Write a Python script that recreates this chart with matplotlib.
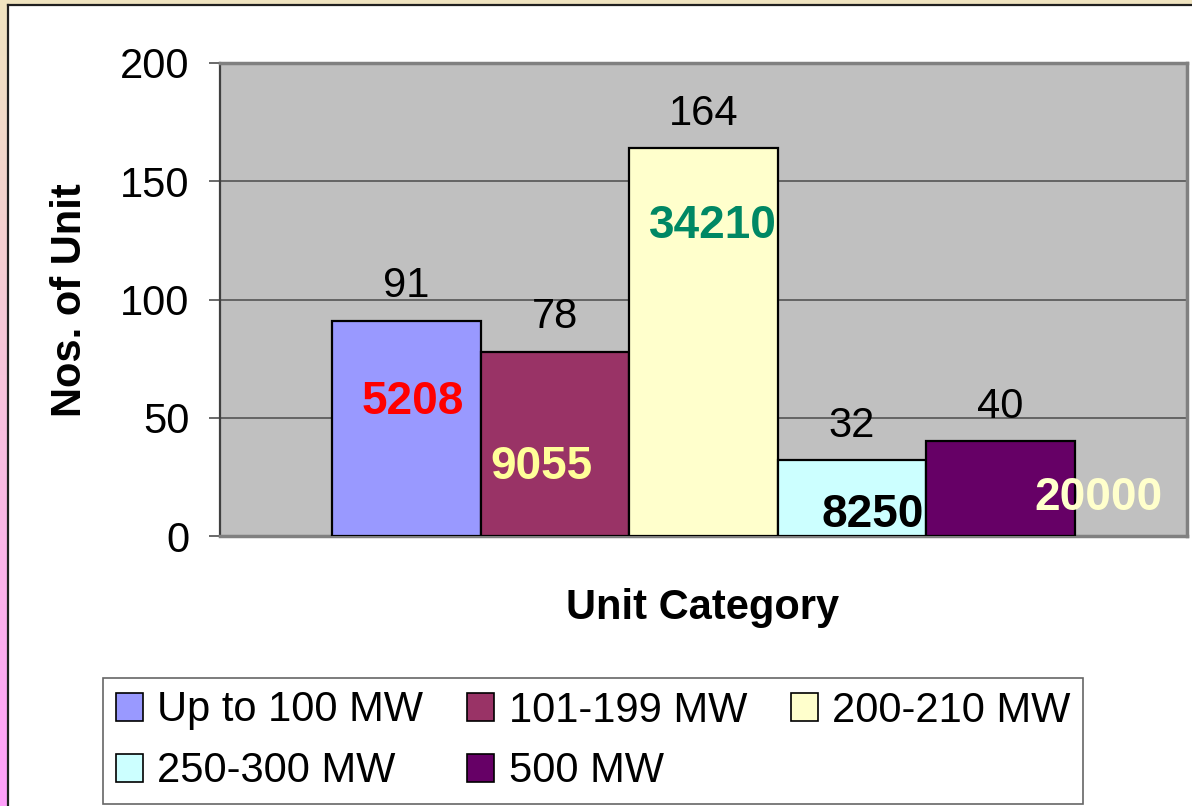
import numpy as np
import matplotlib
matplotlib.use("Agg")
import matplotlib.pyplot as plt
from matplotlib.patches import Rectangle, Patch

plt.rcParams['font.family'] = ['Liberation Sans', 'DejaVu Sans']

# data
categories = ["Up to 100 MW", "101-199 MW", "200-210 MW", "250-300 MW", "500 MW"]
units = [91, 78, 164, 32, 40]
capacity_labels = ["5208", "9055", "34210", "8250", "20000"]
colors = ["#9999FF", "#993366", "#FFFFCC", "#CCFFFF", "#660066"]
cap_colors = ["#FF0000", "#FFFF99", "#008864", "#000000", "#FFFFCC"]
# where the capacity number sits (x shift in bar widths, height in axis units)
cap_dx = [0.044, -0.094, 0.064, 0.14, 0.656]
cap_y = [56.7, 29.2, 130.9, 8.9, 16.0]

W, H = 1192, 806
fig = plt.figure(figsize=(W / 100, H / 100), dpi=100)
fig.patch.set_facecolor("white")

# gradient frame on the top and left
grad = fig.add_axes([0, 0, 8 / W, 1], zorder=-5)
top = np.array([240, 228, 192]) / 255
bot = np.array([255, 160, 250]) / 255
t = np.linspace(0, 1, 200)[:, None]
img = (top * (1 - t) + bot * t)[:, None, :]
grad.imshow(img, aspect="auto", extent=[0, 1, 0, 1])
grad.axis("off")
fig.add_artist(Rectangle((0, 1 - 5 / H), 1, 5 / H, transform=fig.transFigure,
                         facecolor="#F0E4C0", edgecolor="none", zorder=-4))
fig.add_artist(plt.Line2D([8 / W, 8 / W], [0, 1 - 5 / H], transform=fig.transFigure,
                          color="#202020", lw=1.6))
fig.add_artist(plt.Line2D([8 / W, 1], [1 - 5 / H, 1 - 5 / H], transform=fig.transFigure,
                          color="#202020", lw=1.6))

ax = fig.add_axes([220 / W, 1 - 536 / H, 967 / W, 473 / H])
ax.set_facecolor("#C0C0C0")

w = 0.1536
xs = (np.arange(len(units)) - 2) * w
bars = ax.bar(xs, units, width=w, color=colors, edgecolor="black", linewidth=1.6, zorder=3)

for x, v in zip(xs, units):
    ax.annotate(str(v), (x, v), xytext=(0, 17), textcoords="offset points",
                ha="center", va="baseline", fontsize=30, zorder=4)

for x, lab, c, dx, y in zip(xs, capacity_labels, cap_colors, cap_dx, cap_y):
    ax.text(x + dx * w, y, lab, color=c, fontsize=33, fontweight="bold",
            ha="center", va="center", zorder=5)

ax.set_xlim(-0.5, 0.5)
ax.set_ylim(0, 200)
ax.set_yticks([0, 50, 100, 150, 200])
ax.set_xticks([])
ax.yaxis.grid(True, color="#555555", lw=1.2, zorder=0)
ax.set_axisbelow(True)
ax.tick_params(axis="y", labelsize=30, length=8, width=1.2, color="#505050", pad=14)

for s in ["top", "right", "bottom"]:
    ax.spines[s].set_color("#808080")
    ax.spines[s].set_linewidth(2.5)
ax.spines["left"].set_color("#404040")
ax.spines["left"].set_linewidth(1.6)

fig.text(70 / W, 1 - 300 / H, "Nos. of Unit", rotation=90, fontsize=30,
         fontweight="bold", ha="center", va="center")
fig.text(703 / W, 1 - 608 / H, "Unit Category", fontsize=30,
         fontweight="bold", ha="center", va="center")

# legend is filled column by column, so reorder to read row by row
order = [0, 3, 1, 4, 2]
handles = [Patch(facecolor=colors[i], edgecolor="black", lw=1.2) for i in order]
labels = [categories[i] for i in order]
leg = fig.legend(handles, labels, ncol=3, fontsize=30,
                 loc="upper left", bbox_to_anchor=(103 / W, 1 - 678 / H),
                 frameon=True, fancybox=False, handlelength=0.65, handleheight=0.65,
                 handletextpad=0.35, columnspacing=1.05, labelspacing=0.5,
                 borderpad=0.3, borderaxespad=0)
leg.get_frame().set_edgecolor("#404040")
leg.get_frame().set_linewidth(1.2)

fig.savefig("out.png", dpi=100, facecolor=fig.get_facecolor())
